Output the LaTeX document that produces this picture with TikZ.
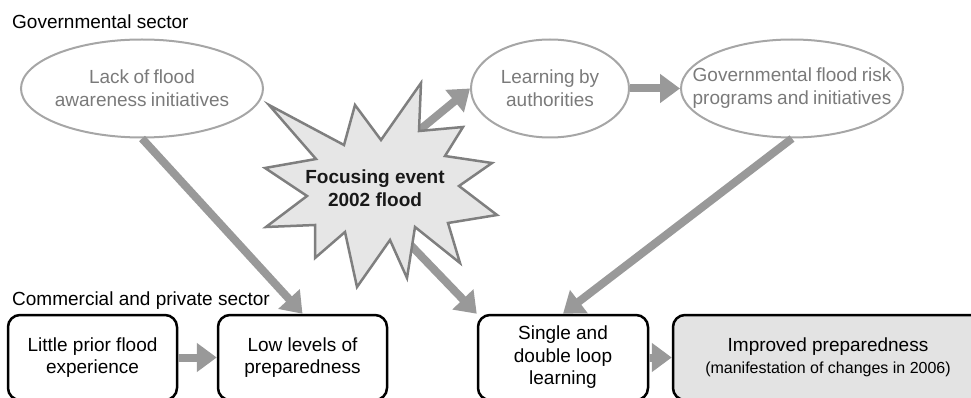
\documentclass[tikz,border=0pt]{standalone}
\usepackage{fontspec}
\setmainfont{Liberation Sans}
\usepackage{tikz}
\usetikzlibrary{shapes.geometric, arrows.meta, positioning}

\definecolor{flowgray}{HTML}{999999}
\definecolor{ovalgray}{HTML}{A6A6A6}
\definecolor{ovaltext}{HTML}{7A7A7A}
\definecolor{burstfill}{HTML}{E6E6E6}
\definecolor{burstline}{HTML}{7F7F7F}
\definecolor{boxfill}{HTML}{E3E3E3}
\newcommand{\ovalfont}{\fontsize{19}{23}\selectfont\spaceskip=4.3pt plus 1pt\relax}

\begin{document}
\begin{tikzpicture}[x=1pt, y=-1pt,
    sector/.style={anchor=base west, inner sep=0pt, font=\fontsize{19}{23}\selectfont},
    govt/.style={ellipse, draw=ovalgray, line width=2pt, inner sep=0pt, minimum height=98pt},
    govtext/.style={text=ovaltext, align=center, inner sep=0pt, font=\ovalfont},
    stagebox/.style={rectangle, draw=black, line width=2.5pt, rounded corners=12pt,
        minimum height=85pt, inner sep=0pt, align=center, font=\fontsize{19}{22.5}\selectfont},
    flow/.style={draw=flowgray, line width=8pt, -{Triangle[length=20pt, width=28pt]}}]
    \useasboundingbox (0,0) rectangle (971,398);

    % governmental sector
    \node[sector] (govlabel) at (12,29) {Governmental sector};
    \node[govt, minimum width=242pt,
        label={[govtext]center:{Lack of flood\\awareness initiatives}}] (lack) at (142,88.5) {};
    \node[govt, minimum width=158pt,
        label={[govtext]center:{Learning by\\authorities}}] (learning) at (550,88.5) {};
    \node[govt, minimum width=222pt,
        label={[govtext]center:{Governmental flood risk\\programs and initiatives}}] (programs) at (792,88.5) {};

    % commercial and private sector
    \node[sector] (comlabel) at (12,305) {Commercial and private sector};
    \node[stagebox, minimum width=169pt] (little) at (92.5,357.5) {Little prior flood\\experience};
    \node[stagebox, minimum width=169pt] (lowprep) at (302.5,357.5) {Low levels of\\preparedness};
    \node[stagebox, minimum width=170pt] (loop) at (563,357.5) {Single and\\double loop\\learning};
    \node[stagebox, minimum width=310pt, fill=boxfill] (improved) at (828,357.5)
        {Improved preparedness\\[-1pt]{\fontsize{16}{19}\selectfont(manifestation of changes in 2006)}};

    % arrows (the two from the flood start behind the burst)
    \coordinate (f1) at (405,142);
    \coordinate (f2) at (398,232);
    \draw[flow] (lack.south) -- (lowprep.north);
    \draw[flow] (f1) -- (learning.west);
    \draw[flow] (f2) -- (loop.north west);
    \draw[flow] (learning.east) -- (programs.west);
    \draw[flow] (programs.south) -- (loop.north);
    \draw[flow] (little.east) -- (lowprep.west);
    \draw[flow] (loop.east) -- (improved.west);

    % focusing event
    \draw[fill=burstfill, draw=burstline, line width=2.5pt, line join=miter]
        (269,105) -- (344,145) -- (355,105) -- (381,140) -- (421,83) -- (419,131)
        -- (463,127) -- (445,156) -- (492,163) -- (459,186) -- (497,215) -- (448,223)
        -- (460,263) -- (415,227) -- (407,278) -- (390,240) -- (357,287) -- (345,232)
        -- (315,258) -- (315,225) -- (266,227) -- (307,196) -- (265,168) -- (316,159) -- cycle;
    \node[align=center, text=black!90, font=\bfseries\fontsize{19}{23}\selectfont] (focus) at (375,188)
        {Focusing event\\2002 flood};
\end{tikzpicture}
\end{document}
